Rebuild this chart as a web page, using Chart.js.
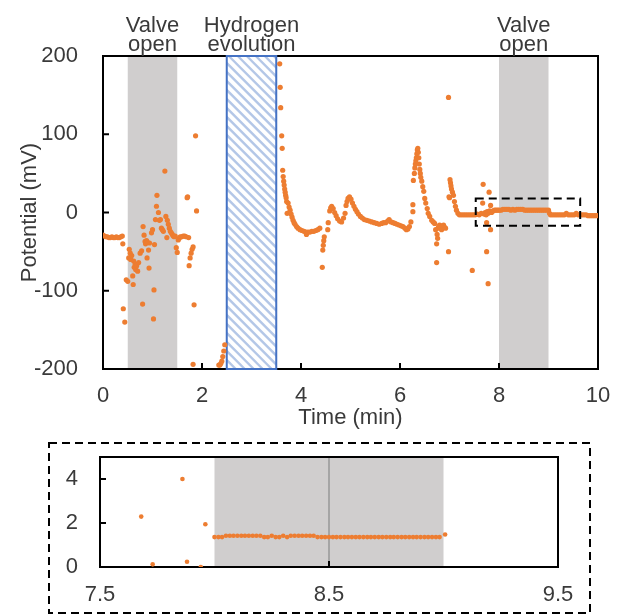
<!DOCTYPE html>
<html><head><meta charset="utf-8">
<script src="https://cdn.jsdelivr.net/npm/chart.js@4.4.0/dist/chart.umd.min.js"></script>
<style>
html,body{margin:0;padding:0;background:#fff;}
#wrap{position:relative;width:619px;height:614px;overflow:hidden;background:#fff;}
#main{position:absolute;left:0;top:0;width:619px;height:440px;}
#inset{position:absolute;left:0;top:440px;width:619px;height:174px;}
</style></head><body>
<div id="wrap"><canvas id="main" width="619" height="440"></canvas><canvas id="inset" width="619" height="174"></canvas></div>
<script>
// ---------- data (time in min, potential in mV) ----------
const t1 = [0.00,0.03,0.06,0.09,0.12,0.15,0.18,0.21,0.24,0.27,0.30,0.33,0.36,0.39];
const v1 = [-29,-30,-31,-31,-32,-32,-31,-32,-32,-31,-32,-32,-31,-30];
const t2 = [0.40,0.41,0.44,0.47,0.50,0.52,0.53,0.55,0.56,0.58,0.60,0.61,0.62,0.63,0.65,0.66,0.68,0.70,0.72,0.75,0.78,0.80,0.81,0.83,0.85,0.86,0.88,0.89,0.90,0.92,0.93,0.94,0.98,1.00,1.02,1.03,1.04,1.06,1.08,1.09,1.12,1.14,1.16,1.18,1.20,1.22,1.25,1.27,1.29,1.30,1.32,1.34,1.36,1.38,1.40,1.42,1.44,1.46,1.48,1.50,1.52,1.54];
const v2 = [-40,-123,-140,-86,-88,-58,-47,-52,-60,-55,-81,-92,-62,-70,-66,-73,-68,-75,-64,-52,-49,-117,-18,-29,-37,-40,-36,-58,-38,-48,-71,-39,-26,-22,-136,-99,-41,-9,8,22,0,-10,-9,-20,-22,-24,53,-5,-32,-10,-15,-20,-24,-26,-28,-30,-31,-30,-45,-51,-35,-33];
const t3 = [1.56,1.59,1.62,1.65,1.68,1.70,1.71,1.73,1.74,1.76,1.78,1.80,1.82,1.82,1.84,1.87,1.89];
const v3 = [-31,-31,-30,-30,-31,19,20,-32,-68,-58,-52,-47,-44,-194,-118,98,2];
const t4 = [2.34,2.36,2.38,2.40,2.42,2.44,2.46];
const v4 = [-195,-195,-193,-190,-184,-177,-169];
const t5 = [3.57,3.58,3.59,3.61,3.62,3.63,3.64,3.65,3.66,3.67,3.68,3.69,3.70,3.71,3.72,3.74,3.76,3.78,3.80,3.82,3.84,3.86,3.88,3.91,3.94,3.98,4.02,4.06,4.10,4.11,4.14,4.18,4.22,4.26,4.30,4.34,4.38];
const v5 = [190,160,134,98,82,54,46,40,35,30,26,22,19,14,-1,12,7,3,-2,-6,-10,-13,-15,-18,-20,-22,-23,-24,-25,-28,-25,-25,-24,-24,-23,-22,-20];
const t6 = [4.43,4.44,4.45,4.46,4.47,4.54,4.55,4.58,4.60,4.62,4.65,4.68,4.71,4.74,4.78,4.82,4.86,4.89,4.91,4.93,4.95,4.98,5.01,5.04,5.07,5.10,5.13,5.16,5.20,5.24,5.28,5.33,5.38,5.43,5.48,5.53,5.58,5.63,5.67,5.71,5.75,5.78,5.82,5.86,5.90,5.94,5.98,6.02,6.06,6.10,6.13,6.16,6.19,6.22];
const v6 = [-70,-48,-42,-36,-31,-22,-13,2,6,8,5,0,-4,-8,-11,-12,-7,-1,9,14,18,20,17,12,8,4,1,-2,-5,-7,-9,-10,-11,-12,-13,-14,-15,-14,-13,-13,-11,-9,-12,-13,-14,-15,-16,-17,-18,-20,-22,-21,-18,-12];
const t7 = [6.26,6.26,6.27,6.29,6.30,6.31,6.32,6.33,6.34,6.35,6.36,6.37,6.38,6.39,6.40,6.41,6.42,6.44,6.46,6.48,6.50,6.52,6.55,6.57,6.60,6.64,6.67,6.70,6.74,6.74,6.72,6.75,6.76,6.77,6.78,6.80,6.82,6.84,6.86,6.88,6.90,6.92];
const v7 = [1,10,41,50,57,62,66,70,75,80,82,77,70,62,55,50,45,40,33,27,18,12,5,-1,-5,-10,-12,-14,-40,-64,-22,-28,-33,-20,-18,-16,-19,-22,-17,-16,-19,-20];
const t8 = [6.98,6.98,6.99,7.00,7.01,7.02,7.03,7.04,7.06,7.08,7.10,7.12,7.14,7.17,7.20,7.24,7.28,7.32,7.36,7.40,7.44,7.46,7.48,7.52,7.56,7.60,7.64,7.67,7.68,7.70,7.72,7.74,7.75,7.75,7.76,7.78,7.78,7.80,7.81,7.83,7.83,7.85,7.88,7.91,7.94,7.97];
const v8 = [147,-50,20,19,42,38,34,30,26,22,14,8,3,-1,-3,-3,-3,-3,-3,-3,-3,-74,-3,-3,-2,-3,-1,12,36,-2,0,-3,-13,-50,1,-91,-1,26,2,9,-22,0,2,3,3,3];
const t9 = [8.00,8.04,8.08,8.12,8.16,8.20,8.24,8.28,8.32,8.36,8.40,8.44,8.48,8.52,8.56,8.60,8.64,8.68,8.72,8.76,8.80,8.84,8.88,8.92,8.96,9.00];
const v9 = [3,3,4,4,4,4,3,4,3,4,4,4,4,3,3,3,3,3,3,3,3,3,3,3,3,3];
const t10 = [9.02,9.04,9.08,9.12,9.16,9.20,9.24,9.28,9.32,9.36,9.40,9.44,9.48,9.52,9.56,9.60,9.64,9.68,9.72,9.76,9.80,9.84,9.88,9.92,9.96,10.00];
const v10 = [-1,-3,-3,-3,-3,-3,-3,-3,-3,-1,-3,-3,-3,-3,-1,-3,-3,-3,-3,-3,-4,-4,-4,-4,-4,-4];

// inset (zoom of 7.5 - 9.5 min)
const insetTime = [7.68,7.73,7.86,7.88,7.94,7.96,
 8.000,8.017,8.033,8.050,8.067,8.083,8.100,8.117,8.133,8.150,
 8.167,8.183,8.200,8.217,8.233,8.250,8.267,8.283,8.300,8.317,
 8.333,8.350,8.367,8.383,8.400,8.417,8.433,8.450,8.467,8.483,
 8.500,8.517,8.533,8.550,8.567,8.583,8.600,8.617,8.633,8.650,
 8.667,8.683,8.700,8.717,8.733,8.750,8.767,8.783,8.800,8.817,
 8.833,8.850,8.867,8.883,8.900,8.917,8.933,8.950,8.967,8.983,9.007];
const insetPotential = [2.29,0.12,4.0,0.24,0.0,1.94,
 1.36,1.36,1.36,1.42,1.42,1.42,1.42,1.42,1.42,1.42,
 1.42,1.42,1.42,1.36,1.36,1.42,1.36,1.36,1.42,1.36,
 1.42,1.42,1.42,1.42,1.42,1.42,1.42,1.36,1.36,1.36,
 1.36,1.36,1.36,1.36,1.36,1.36,1.36,1.36,1.36,1.36,
 1.36,1.36,1.36,1.36,1.36,1.36,1.36,1.36,1.36,1.36,
 1.36,1.36,1.36,1.36,1.36,1.36,1.36,1.36,1.36,1.36,1.48];

// regions & ticks
const valveBands = [[0.5,1.5],[8,9]];
const hydrogenBand = [2.5,3.5];
const bandLabelCenters = [1.0, 3.0, 8.5];
const bandLabelLines = [['Valve','open'],['Hydrogen','evolution'],['Valve','open']];
const zoomBoxX = [7.53, 9.64];
const zoomBoxY = [-17, 18];
const xTicksMain = [0,2,4,6,8,10];
const yTicksMain = [-200,-100,0,100,200];
const xTicksInset = [7.5,8.5,9.5];
const yTicksInset = [0,2,4];
const insetBand = [8,9];
const insetLineAt = 8.5;

// ---------- styling ----------
const FONT = "'Liberation Sans Narrow','Arial Narrow','Liberation Sans',Arial,sans-serif";
const TXT = '#3a3a3a';
const ORANGE = '#ED7D31';
const BAND = '#D0CECE';

function pts(t, v){ return t.map((x,i)=>({x:x, y:v[i]})); }
const mainPoints = [].concat(pts(t1,v1),pts(t2,v2),pts(t3,v3),pts(t4,v4),pts(t5,v5),pts(t6,v6),pts(t7,v7),pts(t8,v8),pts(t9,v9),pts(t10,v10));
const insetPoints = pts(insetTime, insetPotential);

function drawBox(ctx, a){
  ctx.save(); ctx.strokeStyle='#000'; ctx.lineWidth=2;
  ctx.strokeRect(a.left, a.top, a.right-a.left, a.bottom-a.top); ctx.restore();
}
function fixSize(prop, val){
  return s=>{ s[prop]=val; s.paddingTop=0; s.paddingBottom=0; s.paddingLeft=0; s.paddingRight=0; };
}

const mainDecor = {
  id:'mainDecor',
  beforeDatasetsDraw(chart){
    const {ctx, chartArea:a, scales:{x,y}} = chart;
    ctx.save();
    ctx.fillStyle = BAND;
    valveBands.forEach(([s,e])=>{
      const l=x.getPixelForValue(s), r=x.getPixelForValue(e);
      ctx.fillRect(l,a.top,r-l,a.bottom-a.top);
    });
    drawBox(ctx,a);
    ctx.strokeStyle='#000'; ctx.lineWidth=2;
    xTicksMain.forEach(v=>{const p=x.getPixelForValue(v); ctx.beginPath(); ctx.moveTo(p,a.bottom); ctx.lineTo(p,a.bottom-6); ctx.stroke();});
    yTicksMain.forEach(v=>{const p=y.getPixelForValue(v); ctx.beginPath(); ctx.moveTo(a.left,p); ctx.lineTo(a.left+6,p); ctx.stroke();});
    // hatched hydrogen band
    const hl=x.getPixelForValue(hydrogenBand[0]), hr=x.getPixelForValue(hydrogenBand[1]);
    const H=a.bottom-a.top;
    ctx.fillStyle='#fff'; ctx.fillRect(hl,a.top,hr-hl,H);
    ctx.save();
    ctx.beginPath(); ctx.rect(hl,a.top,hr-hl,H); ctx.clip();
    ctx.strokeStyle='#B4C7E7'; ctx.lineWidth=2.3;
    for(let k=-H; k<hr-hl+12; k+=9){
      ctx.beginPath(); ctx.moveTo(hl+k,a.top); ctx.lineTo(hl+k+H,a.bottom); ctx.stroke();
    }
    ctx.restore();
    ctx.strokeStyle='#4472C4'; ctx.lineWidth=2;
    ctx.strokeRect(hl,a.top,hr-hl,H);
    ctx.restore();
  },
  afterDatasetsDraw(chart){
    const {ctx, scales:{x,y}} = chart;
    ctx.save();
    const zl=x.getPixelForValue(zoomBoxX[0]), zr=x.getPixelForValue(zoomBoxX[1]);
    const zt=y.getPixelForValue(zoomBoxY[1]), zb=y.getPixelForValue(zoomBoxY[0]);
    ctx.strokeStyle='#000'; ctx.lineWidth=2; ctx.setLineDash([8,5]);
    ctx.strokeRect(zl,zt,zr-zl,zb-zt);
    ctx.setLineDash([]);
    ctx.fillStyle=TXT; ctx.font='22px '+FONT; ctx.textAlign='center'; ctx.textBaseline='alphabetic';
    bandLabelCenters.forEach((c,i)=>{
      const px=x.getPixelForValue(c);
      ctx.fillText(bandLabelLines[i][0], px, 32);
      ctx.fillText(bandLabelLines[i][1], px, 51);
    });
    ctx.restore();
  }
};

const insetDecor = {
  id:'insetDecor',
  beforeDatasetsDraw(chart){
    const {ctx, chartArea:a, scales:{x,y}} = chart;
    ctx.save();
    const l=x.getPixelForValue(insetBand[0]), r=x.getPixelForValue(insetBand[1]);
    ctx.fillStyle=BAND; ctx.fillRect(l,a.top,r-l,a.bottom-a.top);
    const m=x.getPixelForValue(insetLineAt);
    ctx.strokeStyle='#A5A5A5'; ctx.lineWidth=2;
    ctx.beginPath(); ctx.moveTo(m,a.top); ctx.lineTo(m,a.bottom); ctx.stroke();
    drawBox(ctx,a);
    ctx.strokeStyle='#000'; ctx.lineWidth=2;
    xTicksInset.forEach(v=>{const p=x.getPixelForValue(v); ctx.beginPath(); ctx.moveTo(p,a.bottom); ctx.lineTo(p,a.bottom-6); ctx.stroke();});
    yTicksInset.forEach(v=>{const p=y.getPixelForValue(v); ctx.beginPath(); ctx.moveTo(a.left,p); ctx.lineTo(a.left+6,p); ctx.stroke();});
    ctx.setLineDash([8,5]);
    ctx.strokeRect(49,3,541,170);
    ctx.restore();
  }
};

const tickFont = {family:FONT, size:22};
const common = {
  responsive:false, animation:false, events:[],
  plugins:{legend:{display:false}, tooltip:{enabled:false}}
};

new Chart(document.getElementById('main'), {
  type:'scatter',
  data:{datasets:[{data:mainPoints, backgroundColor:ORANGE, borderColor:ORANGE, borderWidth:0, pointRadius:2.6}]},
  options:Object.assign({}, common, {
    layout:{padding:{top:56,right:21,left:0,bottom:0}},
    scales:{
      x:{type:'linear', min:0, max:10,
         afterBuildTicks:s=>{s.ticks=xTicksMain.map(v=>({value:v}));},
         afterFit:fixSize('height',71),
         grid:{display:false, drawTicks:false}, border:{display:false},
         ticks:{color:TXT, font:tickFont, padding:14, maxRotation:0},
         title:{display:true, text:'Time (min)', color:TXT, font:tickFont, padding:{top:0,bottom:9}}},
      y:{type:'linear', min:-200, max:200,
         afterBuildTicks:s=>{s.ticks=yTicksMain.map(v=>({value:v}));},
         afterFit:fixSize('width',103),
         grid:{display:false, drawTicks:false}, border:{display:false},
         ticks:{color:TXT, font:tickFont, padding:25},
         title:{display:true, text:'Potential (mV)', color:TXT, font:tickFont, padding:{top:17,bottom:0}}}
    }
  }),
  plugins:[mainDecor]
});

new Chart(document.getElementById('inset'), {
  type:'scatter',
  data:{datasets:[{data:insetPoints, backgroundColor:ORANGE, borderColor:ORANGE, borderWidth:0, pointRadius:2.3}]},
  options:Object.assign({}, common, {
    layout:{padding:{top:17,right:61,left:0,bottom:0}},
    scales:{
      x:{type:'linear', min:7.5, max:9.5,
         afterBuildTicks:s=>{s.ticks=xTicksInset.map(v=>({value:v}));},
         afterFit:fixSize('height',47),
         grid:{display:false, drawTicks:false}, border:{display:false},
         ticks:{color:TXT, font:tickFont, padding:15, maxRotation:0, callback:v=>v.toFixed(1)}},
      y:{type:'linear', min:0, max:5,
         afterBuildTicks:s=>{s.ticks=yTicksInset.map(v=>({value:v}));},
         afterFit:fixSize('width',100),
         grid:{display:false, drawTicks:false}, border:{display:false},
         ticks:{color:TXT, font:tickFont, padding:22}}
    }
  }),
  plugins:[insetDecor]
});
</script>
</body></html>
